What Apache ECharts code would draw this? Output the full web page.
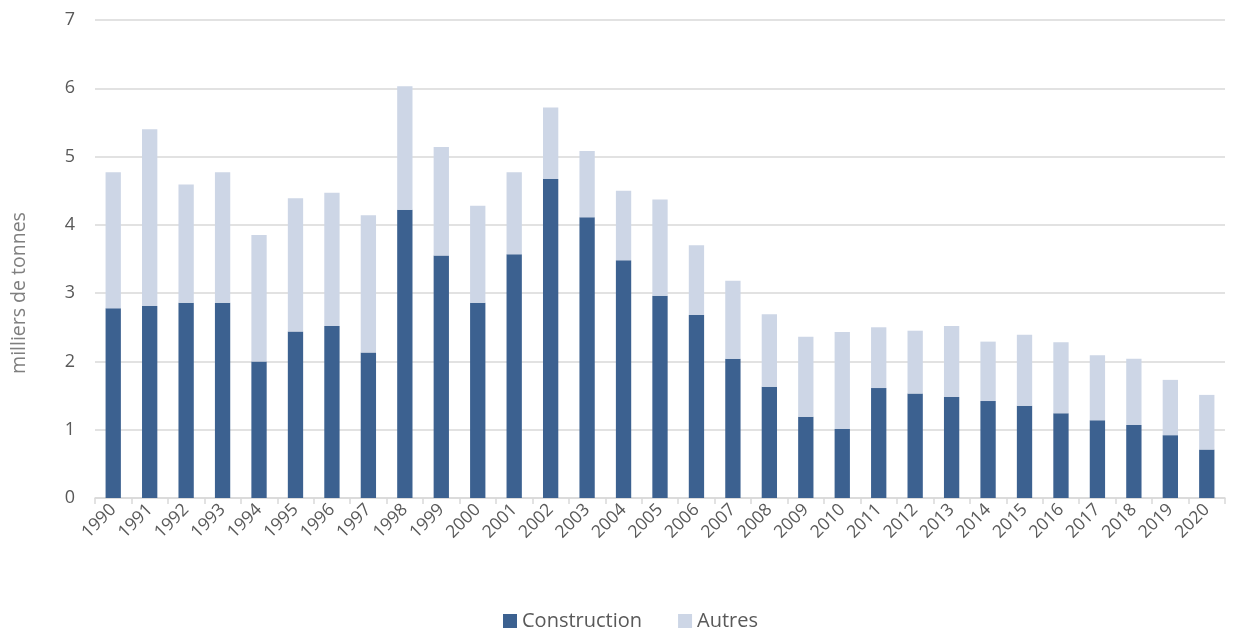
<!DOCTYPE html>
<html>
<head>
<meta charset="utf-8">
<script src="https://cdn.jsdelivr.net/npm/echarts@6/dist/echarts.min.js"></script>
<style>html,body{margin:0;padding:0;background:#fff}#c{width:1234px;height:632px}</style>
</head>
<body>
<div id="c"></div>
<script>
const years = ['1990','1991','1992','1993','1994','1995','1996','1997','1998','1999','2000','2001','2002','2003','2004','2005','2006','2007','2008','2009','2010','2011','2012','2013','2014','2015','2016','2017','2018','2019','2020'];
const construction = [2.78,2.81,2.86,2.86,2.00,2.44,2.52,2.13,4.22,3.55,2.86,3.57,4.67,4.11,3.48,2.96,2.68,2.04,1.63,1.19,1.01,1.61,1.53,1.48,1.42,1.35,1.24,1.14,1.07,0.92,0.71];
const totals = [4.77,5.40,4.59,4.77,3.85,4.39,4.47,4.14,6.03,5.14,4.28,4.77,5.72,5.08,4.50,4.37,3.70,3.18,2.69,2.36,2.43,2.50,2.45,2.52,2.29,2.39,2.28,2.09,2.04,1.73,1.51];
const autres = totals.map((t, i) => +(t - construction[i]).toFixed(2));
const yTicks = [0,1,2,3,4,5,6,7];
const yName = 'milliers de tonnes';

const chart = echarts.init(document.getElementById('c'));
const font = 'Open Sans';
chart.setOption({
  animation: false,
  textStyle: {fontFamily: font},
  grid: {left: 95, right: 9, top: 20, bottom: 134, containLabel: false},
  legend: {
    top: 606, left: 498,
    itemWidth: 14, itemHeight: 14, itemGap: 36,
    icon: 'rect',
    textStyle: {fontSize: 20, color: '#595959', fontFamily: font, padding: [0, 0, 0, 0]},
    data: ['Construction', 'Autres']
  },
  xAxis: {
    type: 'category', data: years,
    axisLine: {lineStyle: {color: '#d9d9d9', width: 1.5}},
    axisTick: {show: true, length: 6, lineStyle: {color: '#d9d9d9', width: 1.5}},
    axisLabel: {rotate: 45, fontSize: 17.5, color: '#595959', margin: 9, interval: 0}
  },
  yAxis: {
    type: 'value', min: yTicks[0], max: yTicks[yTicks.length-1], interval: 1,
    axisLine: {show: false}, axisTick: {show: false},
    splitLine: {lineStyle: {color: '#d9d9d9', width: 1.5}},
    axisLabel: {fontSize: 18, color: '#595959', margin: 20}
  },
  graphic: [{
    type: 'text', x: 19, y: 293, rotation: Math.PI/2,
    style: {text: yName, font: '19.5px "Open Sans"', fill: '#7f7f7f', textAlign: 'center', textVerticalAlign: 'middle'}
  }],
  series: [
    {name: 'Construction', type: 'bar', stack: 's', data: construction, barWidth: '42%',
     itemStyle: {color: '#3C6190'}},
    {name: 'Autres', type: 'bar', stack: 's', data: autres, barWidth: '42%',
     itemStyle: {color: '#CDD6E6'}}
  ]
});
</script>
</body>
</html>
